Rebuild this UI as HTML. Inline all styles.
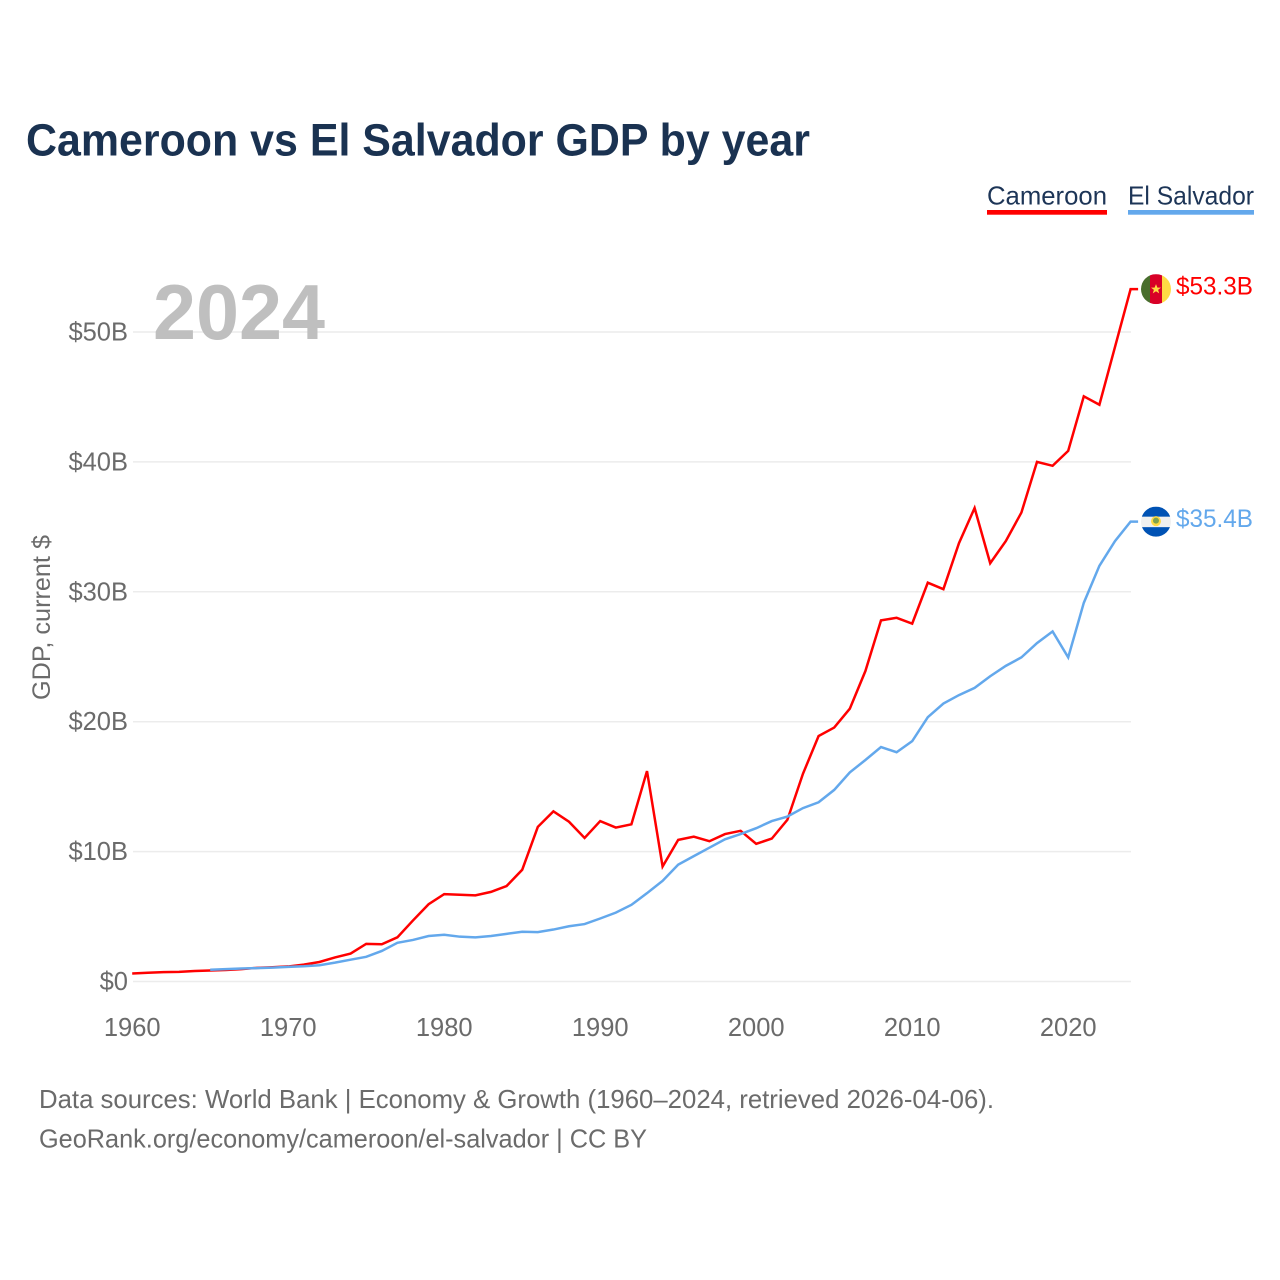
<!DOCTYPE html>
<html lang="en">
<head>
<meta charset="utf-8">
<title>Cameroon vs El Salvador GDP by year</title>
<style>
html,body{margin:0;padding:0;background:#fff;}
svg{display:block;}
text{font-family:"Liberation Sans",sans-serif;}
</style>
</head>
<body>
<svg id="chart" xmlns="http://www.w3.org/2000/svg" width="1280" height="1280" viewBox="0 0 1280 1280">
  <rect x="0" y="0" width="1280" height="1280" fill="#fff"/>
  <text x="26" y="155.5" font-size="45" font-weight="700" fill="#1a3251" textLength="784" lengthAdjust="spacingAndGlyphs">Cameroon vs El Salvador GDP by year</text>

  <g>
    <g>
      <text x="987" y="204.5" font-size="26" fill="#1d3557" textLength="120" lengthAdjust="spacingAndGlyphs">Cameroon</text>
      <rect x="987" y="210" width="120" height="4.7" fill="#ff0000"/>
    </g>
    <g>
      <text x="1128" y="204.5" font-size="26" fill="#1d3557" textLength="126" lengthAdjust="spacingAndGlyphs">El Salvador</text>
      <rect x="1128" y="210" width="126" height="4.7" fill="#63a8ec"/>
    </g>
  </g>

  <g id="grid"></g>
  <g id="yticks"></g>
  <g id="xticks"></g>

  <text x="153" y="339" font-size="78" font-weight="700" fill="#bfbfbf" textLength="172" lengthAdjust="spacingAndGlyphs">2024</text>

  <text transform="translate(50,700) rotate(-90)" x="0" y="0" font-size="25" fill="#6b6b6b" textLength="165" lengthAdjust="spacingAndGlyphs">GDP, current $</text>

  <g id="lines"></g>

  <g id="flag-cameroon">
    <clipPath id="clip-cm"><circle cx="0" cy="0" r="15"/></clipPath>
    <g clip-path="url(#clip-cm)">
      <rect x="-15" y="-15" width="9" height="30" fill="#496e2d"/>
      <rect x="-6" y="-15" width="12" height="30" fill="#d80027"/>
      <rect x="6" y="-15" width="9" height="30" fill="#ffda44"/>
      <polygon points="0,-5 1.4,-1.5 5,-1.5 2.1,0.7 3.2,4.3 0,2.1 -3.2,4.3 -2.1,0.7 -5,-1.5 -1.4,-1.5" fill="#ffda44"/>
    </g>
  </g>
  <g id="flag-elsalvador">
    <clipPath id="clip-sv"><circle cx="0" cy="0" r="15"/></clipPath>
    <g clip-path="url(#clip-sv)">
      <rect x="-15" y="-15" width="30" height="30" fill="#f0f0f0"/>
      <rect x="-15" y="-15" width="30" height="10" fill="#0052b4"/>
      <rect x="-15" y="5.5" width="30" height="10" fill="#0052b4"/>
      <circle cx="0" cy="-0.5" r="5" fill="#ffda44"/>
      <circle cx="0" cy="-1" r="3" fill="#7fa24e"/>
    </g>
  </g>
  <g id="end-labels"></g>

  <g>
    <text x="39" y="1108" font-size="26" fill="#6b6b6b" textLength="955" lengthAdjust="spacingAndGlyphs">Data sources: World Bank | Economy &amp; Growth (1960–2024, retrieved 2026-04-06).</text>
    <text x="39" y="1147.5" font-size="26" fill="#6b6b6b" textLength="608" lengthAdjust="spacingAndGlyphs">GeoRank.org/economy/cameroon/el-salvador | CC BY</text>
  </g>
</svg>
<script>
const NS = "http://www.w3.org/2000/svg";
const firstYear = 1960;
const yTickValues = [0, 10, 20, 30, 40, 50];
const yTickLabels = ["$0", "$10B", "$20B", "$30B", "$40B", "$50B"];
const xTickValues = [1960, 1970, 1980, 1990, 2000, 2010, 2020];
const cameroonValues = [0.62,0.67,0.72,0.74,0.81,0.85,0.89,0.95,1.05,1.1,1.16,1.3,1.5,1.85,2.15,2.9,2.87,3.4,4.7,5.95,6.73,6.68,6.63,6.9,7.35,8.6,11.9,13.1,12.3,11.05,12.35,11.85,12.1,16.2,8.85,10.9,11.15,10.8,11.35,11.6,10.6,11.0,12.45,16.0,18.9,19.55,21.0,23.9,27.8,28.0,27.55,30.7,30.2,33.75,36.45,32.2,33.9,36.1,40.0,39.7,40.85,45.05,44.4,48.85,53.3];
const elSalvadorStartYear = 1965;
const elSalvadorValues = [0.9,0.95,1.0,1.03,1.07,1.13,1.17,1.25,1.45,1.68,1.9,2.35,2.98,3.2,3.5,3.6,3.45,3.4,3.5,3.67,3.83,3.8,4.0,4.25,4.42,4.85,5.3,5.9,6.8,7.75,9.0,9.65,10.3,10.95,11.35,11.8,12.35,12.7,13.35,13.8,14.75,16.1,17.05,18.05,17.65,18.5,20.35,21.4,22.05,22.6,23.5,24.3,24.95,26.05,26.95,24.95,29.15,32.0,33.9,35.4];

function xScale(year) { return 132.2 + (year - 1960) * 15.6; }
function yScale(v) { return 981.5 - v * 12.99; }

function make(tag, attrs, parent) {
  const el = document.createElementNS(NS, tag);
  for (const k in attrs) el.setAttribute(k, attrs[k]);
  parent.appendChild(el);
  return el;
}

const gridLayer = document.getElementById("grid");
const yLayer = document.getElementById("yticks");
yTickValues.forEach(function (v, i) {
  const line = make("line", {x1: 133, x2: 1131, y1: yScale(v), y2: yScale(v), stroke: "#ececec", "stroke-width": 1.5}, gridLayer);
  
  
  const label = make("text", {x: 128, y: yScale(v) + 8.5, "text-anchor": "end", "font-size": 25.5, fill: "#6b6b6b"}, yLayer);
  
  
  label.textContent = yTickLabels[i];
});

const xLayer = document.getElementById("xticks");
xTickValues.forEach(function (yr) {
  const label = make("text", {x: xScale(yr), y: 1036, "text-anchor": "middle", "font-size": 25.5, fill: "#6b6b6b"}, xLayer);
  
  
  label.textContent = String(yr);
});

function linePoints(values, startYear) {
  const pts = values.map(function (v, i) { return xScale(startYear + i).toFixed(2) + "," + yScale(v).toFixed(2); });
  const last = values[values.length - 1];
  pts.push((xScale(startYear + values.length - 1) + 7.5).toFixed(2) + "," + yScale(last).toFixed(2));
  return pts.join(" ");
}

const lineLayer = document.getElementById("lines");
const redLine = make("polyline", {points: linePoints(cameroonValues, firstYear), fill: "none", stroke: "#ff0000", "stroke-width": 2.5}, lineLayer);


const blueLine = make("polyline", {points: linePoints(elSalvadorValues, elSalvadorStartYear), fill: "none", stroke: "#63a8ec", "stroke-width": 2.5}, lineLayer);



const lastCm = cameroonValues[cameroonValues.length - 1];
const lastSv = elSalvadorValues[elSalvadorValues.length - 1];
document.getElementById("flag-cameroon").setAttribute("transform", "translate(1156," + yScale(lastCm) + ")");
document.getElementById("flag-elsalvador").setAttribute("transform", "translate(1156," + yScale(lastSv) + ")");

const endLayer = document.getElementById("end-labels");
const endCm = make("text", {x: 1176, y: yScale(lastCm) + 5.5, "font-size": 25, fill: "#ff0000", textLength: 77, lengthAdjust: "spacingAndGlyphs"}, endLayer);


endCm.textContent = "$" + lastCm.toFixed(1) + "B";
const endSv = make("text", {x: 1176, y: yScale(lastSv) + 5.5, "font-size": 25, fill: "#63a8ec", textLength: 77, lengthAdjust: "spacingAndGlyphs"}, endLayer);


endSv.textContent = "$" + lastSv.toFixed(1) + "B";
</script>
</body>
</html>
